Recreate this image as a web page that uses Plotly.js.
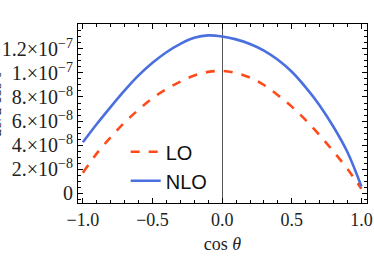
<!DOCTYPE html>
<html>
<head>
<meta charset="utf-8">
<script src="https://cdn.plot.ly/plotly-3.0.1.min.js"></script>
<style>html,body{margin:0;padding:0;background:#fff;}#chart{width:374px;height:264px;}</style>
</head>
<body>
<div id="chart"></div>
<script>
const cosTheta = [-1, -0.9, -0.8, -0.7, -0.6, -0.5, -0.4, -0.3, -0.2, -0.1, 0, 0.1, 0.2, 0.3, 0.4, 0.5, 0.6, 0.7, 0.8, 0.9, 1];
const loValues = [1.69e-8, 3.3e-8, 4.65e-8, 5.88e-8, 6.95e-8, 7.9e-8, 8.65e-8, 9.28e-8, 9.79e-8, 10.09e-8, 10.17e-8, 10.0e-8, 9.62e-8, 9.0e-8, 8.15e-8, 7.2e-8, 6.07e-8, 4.82e-8, 3.45e-8, 2.0e-8, 0.35e-8];
const nloValues = [4.23e-8, 5.75e-8, 7.18e-8, 8.55e-8, 9.8e-8, 10.85e-8, 11.73e-8, 12.43e-8, 12.93e-8, 13.13e-8, 13.04e-8, 12.8e-8, 12.42e-8, 11.87e-8, 11.1e-8, 10.1e-8, 8.8e-8, 7.3e-8, 5.5e-8, 3.4e-8, 0.55e-8];
const yTickVals = [0, 2e-8, 4e-8, 6e-8, 8e-8, 1e-7, 1.2e-7];
const yTickText = ['0', '2.×10<sup>−8</sup>', '4.×10<sup>−8</sup>', '6.×10<sup>−8</sup>', '8.×10<sup>−8</sup>', '1.×10<sup>−7</sup>', '1.2×10<sup>−7</sup>'];
const xTickVals = [-1, -0.5, 0, 0.5, 1];
const xTickText = ['−1.0', '−0.5', '0.0', '0.5', '1.0'];
const seriesNames = ['LO', 'NLO'];
const yTitle = 'dσ/d cos θ';

const serif = 'Liberation Serif';
const traces = [
  {x: cosTheta, y: loValues, name: seriesNames[0], mode: 'lines', line: {color: '#FF4A1A', width: 2.6, dash: 'dash', shape: 'spline', smoothing: 1}},
  {x: cosTheta, y: nloValues, name: seriesNames[1], mode: 'lines', line: {color: '#4A6FDF', width: 2.6, shape: 'spline', smoothing: 1}}
];
const layout = {
  width: 374, height: 264,
  margin: {l: 78, r: 7, t: 24, b: 61},
  paper_bgcolor: '#fff', plot_bgcolor: '#fff',
  font: {family: serif, size: 16, color: '#222'},
  showlegend: true,
  legend: {x: 0.165, y: 0.395, xanchor: 'left', yanchor: 'top', bgcolor: 'rgba(0,0,0,0)',
           font: {family: 'Liberation Sans', size: 20, color: '#111'}, tracegroupgap: 0},
  xaxis: {
    range: [-1.035, 1.04], showgrid: false, zeroline: true, zerolinecolor: '#555', zerolinewidth: 1,
    showline: true, linecolor: '#000', linewidth: 1, mirror: 'ticks',
    ticks: 'inside', ticklen: 5, tickcolor: '#000', tickvals: xTickVals, ticktext: xTickText,
    minor: {dtick: 0.1, ticks: 'inside', ticklen: 3, tickcolor: '#000'},
    tickfont: {family: serif, size: 18, color: '#222'},
    title: {text: 'cos <i>θ</i>', font: {family: serif, size: 18, color: '#222'}, standoff: 8}
  },
  yaxis: {
    range: [-0.83e-8, 1.408e-7], showgrid: false, zeroline: false,
    showline: true, linecolor: '#000', linewidth: 1, mirror: 'ticks',
    ticks: 'inside', ticklen: 5, tickcolor: '#000', tickvals: yTickVals, ticktext: yTickText,
    minor: {dtick: 0.5e-8, ticks: 'inside', ticklen: 3, tickcolor: '#000'},
    tickfont: {family: serif, size: 20, color: '#222'}
  },
  annotations: [{text: yTitle, textangle: -90, xref: 'paper', yref: 'paper', x: -0.285, y: 0.55,
                 xanchor: 'center', yanchor: 'middle', showarrow: false,
                 font: {family: serif, size: 16, color: '#222'}}]
};
Plotly.newPlot('chart', traces, layout, {displayModeBar: false, staticPlot: true});
</script>
</body>
</html>
